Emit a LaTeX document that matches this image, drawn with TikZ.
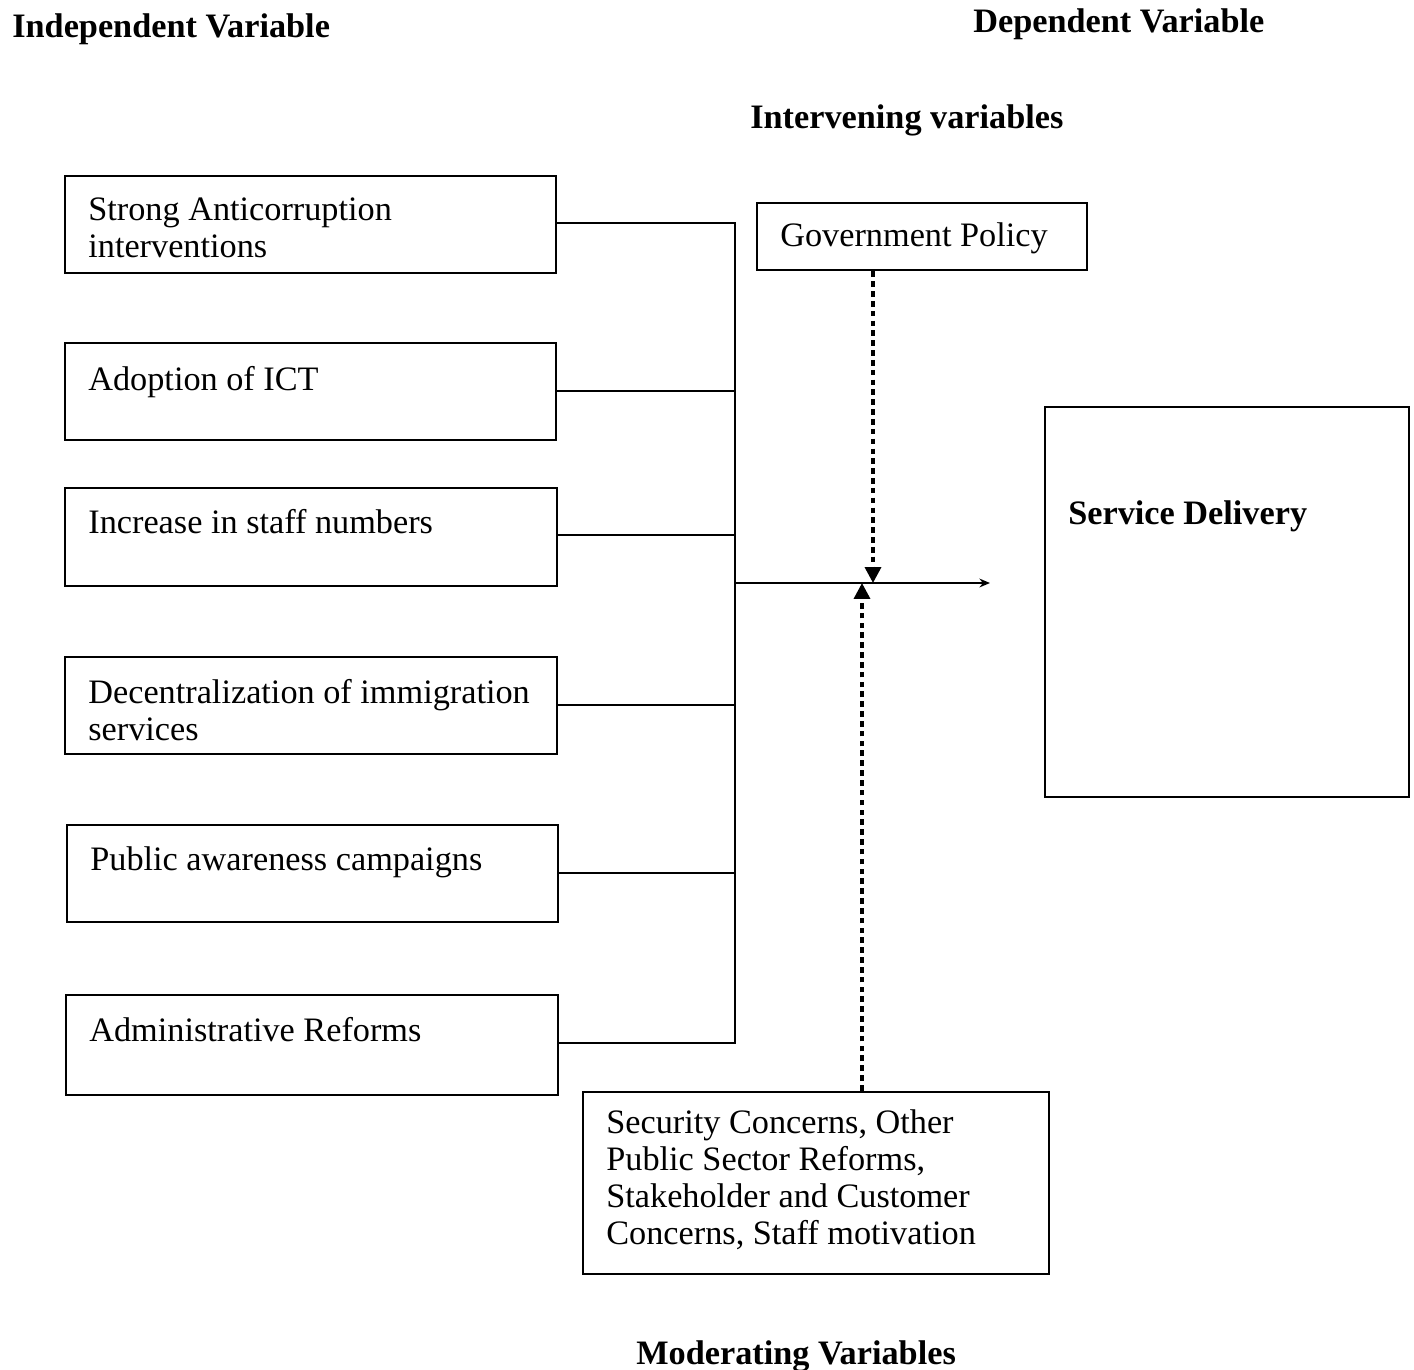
\documentclass[tikz,border=0pt]{standalone}
\usepackage{fontspec}
\setmainfont{Liberation Serif}
\usetikzlibrary{arrows.meta}
\begin{document}
\begin{tikzpicture}[x=0.02cm,y=-0.02cm,
  box/.style={draw,line width=1.6pt,rectangle,inner sep=0pt},
  txt/.style={anchor=base west,inner sep=0pt,align=left,font=\fontsize{19.5}{21}\selectfont},
  hdr/.style={anchor=base west,inner sep=0pt,font=\fontsize{19.5}{21}\selectfont\bfseries},
  conn/.style={line width=1.6pt},
  dasharrow/.style={line width=2pt,dash pattern=on 3.2pt off 2.4pt,-{Triangle[length=9pt,width=9pt]}}]
\useasboundingbox (0,0) rectangle (1414,1370);
% headers
\node[hdr] (hind) at (12,37) {Independent Variable};
\node[hdr] (hdep) at (973,32) {Dependent Variable};
\node[hdr] (hint) at (750,128) {Intervening variables};
\node[hdr] (hmod) at (636,1364) {Moderating Variables};
% left boxes
\node[box,minimum width=9.82cm,minimum height=1.94cm] (b1) at (310.5,224.5) {};
\node[box,minimum width=9.82cm,minimum height=1.94cm] (b2) at (310.5,391.5) {};
\node[box,minimum width=9.84cm,minimum height=1.96cm] (b3) at (311,537) {};
\node[box,minimum width=9.84cm,minimum height=1.94cm] (b4) at (311,705.5) {};
\node[box,minimum width=9.82cm,minimum height=1.94cm] (b5) at (312.5,873.5) {};
\node[box,minimum width=9.84cm,minimum height=2.0cm] (b6) at (312,1045) {};
\node[txt] (t1) at (88,257) {Strong Anticorruption\\interventions};
\node[txt] (t2) at (88,390) {Adoption of ICT};
\node[txt] (t3) at (88,533) {Increase in staff numbers};
\node[txt] (t4) at (88,740) {Decentralization of immigration\\services};
\node[txt] (t5) at (90,870) {Public awareness campaigns};
\node[txt] (t6) at (89,1041) {Administrative Reforms};
% right boxes
\node[box,minimum width=6.6cm,minimum height=1.34cm] (gov) at (922,236.5) {};
\node[txt] (tgov) at (780,246) {Government Policy};
\node[box,minimum width=7.28cm,minimum height=7.8cm] (sd) at (1227,602) {};
\node[hdr] (tsd) at (1068,524) {Service Delivery};
\node[box,minimum width=9.32cm,minimum height=3.64cm] (mod) at (816,1183) {};
\node[txt] (tmod) at (606,1244) {Security Concerns, Other\\Public Sector Reforms,\\Stakeholder and Customer\\Concerns, Staff motivation};
% bus
\coordinate (bustop) at (735,223);
\coordinate (busbot) at (735,1043);
\coordinate (junc) at (735,583);
\coordinate (tip) at (990,583);
\coordinate (govhit) at (873,583);
\coordinate (modhit) at (862,583);
\draw[conn] (b1.east |- bustop) -- (bustop) -- (busbot) -- (b6.east |- busbot);
\foreach \b/\yy in {b2/391,b3/535,b4/705,b5/873}
  \draw[conn] (\b.east |- 0,\yy) -- (735,\yy);
\draw[conn,-{Stealth[length=6pt,width=5pt]}] (junc) -- (tip);
\draw[dasharrow] (gov.south -| govhit) -- (govhit);
\draw[dasharrow] (mod.north -| modhit) -- (modhit);
\end{tikzpicture}
\end{document}
